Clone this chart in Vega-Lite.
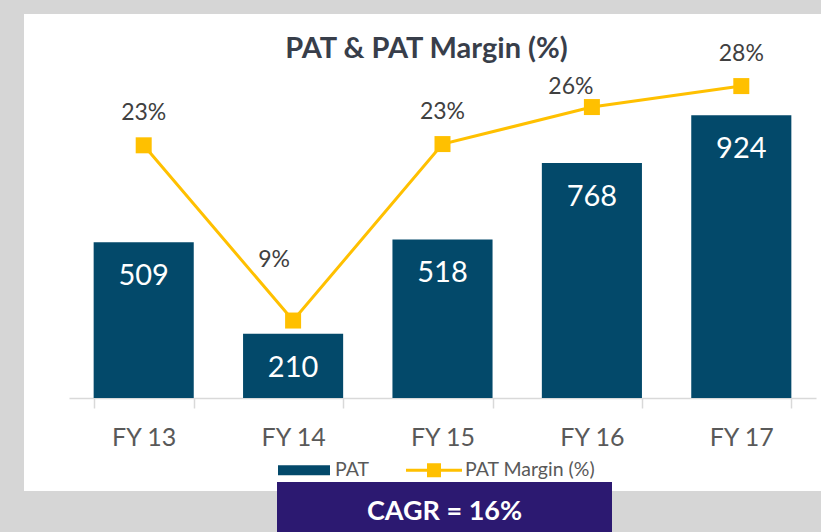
{
  "$schema": "https://vega.github.io/schema/vega-lite/v6.json",
  "autosize": {"type": "none"},
  "width": 797,
  "height": 477,
  "padding": {"left": 24, "top": 14, "right": 0, "bottom": 41},
  "background": "#D6D6D6",
  "config": {
    "view": {"fill": "white", "stroke": null},
    "font": "Lato"
  },
  "title": {
    "text": "PAT & PAT Margin (%)",
    "font": "Lato",
    "fontSize": 29,
    "fontWeight": "bold",
    "color": "#383E4A",
    "anchor": "middle",
    "frame": "group",
    "orient": "top",
    "offset": -46,
    "baseline": "alphabetic",
    "dx": 4,
    "dy": 27
  },
  "data": {
    "values": [
      {"year": "FY 13", "pat": 509, "margin": 0.232},
      {"year": "FY 14", "pat": 210, "margin": 0.09},
      {"year": "FY 15", "pat": 518, "margin": 0.233},
      {"year": "FY 16", "pat": 768, "margin": 0.263},
      {"year": "FY 17", "pat": 924, "margin": 0.28}
    ]
  },
  "layer": [
    {
      "encoding": {
        "x": {
          "field": "year",
          "type": "nominal",
          "sort": null,
          "scale": {
            "domain": ["FY 13", "FY 14", "FY 15", "FY 16", "FY 17"],
            "range": [45, 792],
            "paddingInner": 0.33,
            "paddingOuter": 0.165
          },
          "axis": {
            "title": null,
            "orient": "bottom",
            "offset": -93,
            "labelAngle": 0,
            "labelFont": "Lato",
            "labelFontSize": 25,
            "labelColor": "#595959",
            "labelBaseline": "alphabetic",
            "labelPadding": 37,
            "tickBand": "extent",
            "tickSize": 10,
            "tickColor": "#D9D9D9",
            "tickWidth": 1.5,
            "domainColor": "#D9D9D9",
            "domainWidth": 1.5,
            "grid": false
          }
        },
        "y": {
          "field": "pat",
          "type": "quantitative",
          "scale": {"domain": [0, 1000], "range": [384, 78], "nice": false, "zero": true},
          "axis": null
        }
      },
      "layer": [
        {
          "mark": {"type": "bar"},
          "encoding": {
            "color": {
              "datum": "PAT",
              "scale": {"domain": ["PAT", "PAT Margin (%)"], "range": ["#03496A", "#FFC000"]},
              "legend": {
                "title": null,
                "orient": "none",
                "legendX": 270,
                "legendY": 446,
                "direction": "horizontal",
                "padding": 0,
                "symbolSize": 400,
                "labelFont": "Lato",
                "labelFontSize": 19.5,
                "labelColor": "#595959",
                "labelOffset": 21,
                "columnPadding": 36,
                "encode": {
                  "symbols": {
                    "update": {
                      "shape": {"signal": "datum.value === 'PAT' ? 'M-2.6,-0.5H2.6V0.5H-2.6Z' : 'M-2.8,-0.15H-0.7V-0.7H0.7V-0.15H2.8V0.15H0.7V0.7H-0.7V0.15H-2.8Z'"},
                      "fill": {"signal": "datum.value === 'PAT' ? '#03496A' : '#FFC000'"},
                      "stroke": {"value": "transparent"},
                      "strokeWidth": {"value": 0},
                      "opacity": {"value": 1},
                      "fillOpacity": {"value": 1}
                    }
                  }
                }
              }
            }
          }
        },
        {
          "mark": {"type": "text", "baseline": "alphabetic", "dy": 43, "fontSize": 29, "color": "white", "font": "Lato"},
          "encoding": {"text": {"field": "pat", "type": "quantitative"}}
        }
      ]
    },
    {
      "encoding": {
        "x": {"field": "year", "type": "nominal", "sort": null},
        "y": {
          "field": "margin",
          "type": "quantitative",
          "scale": {"domain": [0, 0.3], "range": [417.6, 47.4], "nice": false, "zero": false},
          "axis": null
        }
      },
      "layer": [
        {
          "mark": {"type": "line", "strokeWidth": 3},
          "encoding": {"color": {"datum": "PAT Margin (%)"}}
        },
        {
          "mark": {"type": "point", "shape": "square", "size": 256, "filled": true, "opacity": 1},
          "encoding": {"color": {"datum": "PAT Margin (%)"}}
        },
        {
          "transform": [{"filter": "datum.year !== 'FY 14' && datum.year !== 'FY 16'"}],
          "mark": {"type": "text", "baseline": "alphabetic", "dy": -25, "fontSize": 23, "color": "#404040", "font": "Lato"},
          "encoding": {"text": {"field": "margin", "type": "quantitative", "format": ".0%"}}
        },
        {
          "transform": [{"filter": "datum.year === 'FY 14'"}],
          "mark": {"type": "text", "baseline": "alphabetic", "dy": -54, "dx": -19, "fontSize": 23, "color": "#404040", "font": "Lato"},
          "encoding": {"text": {"field": "margin", "type": "quantitative", "format": ".0%"}}
        },
        {
          "transform": [{"filter": "datum.year === 'FY 16'"}],
          "mark": {"type": "text", "baseline": "alphabetic", "dy": -13.5, "dx": -21, "fontSize": 23, "color": "#404040", "font": "Lato"},
          "encoding": {"text": {"field": "margin", "type": "quantitative", "format": ".0%"}}
        }
      ]
    },
    {
      "data": {"values": [{"label": "CAGR = 16%", "year": "FY 15"}]},
      "encoding": {
        "x": {"field": "year", "type": "nominal", "sort": null}
      },
      "layer": [
        {
          "mark": {"type": "bar", "width": 335, "color": "#2C1971", "clip": false, "xOffset": 2},
          "encoding": {
            "y": {"datum": 0, "type": "quantitative", "scale": {"domain": [0, 1], "range": [468, 528], "nice": false, "zero": false}, "axis": null},
            "y2": {"datum": 1}
          }
        },
        {
          "mark": {"type": "text", "baseline": "alphabetic", "fontSize": 27, "fontWeight": "bold", "color": "white", "font": "Lato", "clip": false, "xOffset": 2},
          "encoding": {
            "y": {"datum": 0.64, "type": "quantitative"},
            "text": {"field": "label", "type": "nominal"}
          }
        }
      ]
    }
  ],
  "resolve": {"scale": {"y": "independent"}}
}
